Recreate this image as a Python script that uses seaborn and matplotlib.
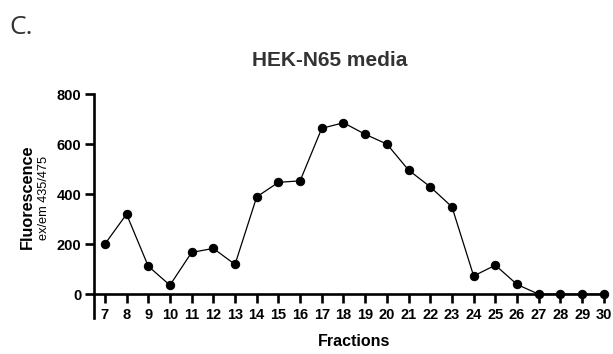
import matplotlib
matplotlib.use("Agg")
import matplotlib.pyplot as plt
import seaborn as sns
import pandas as pd

fractions = list(range(7, 31))
fluorescence = [200, 320, 112, 36, 167, 183, 119, 389, 447, 453, 663, 685,
                639, 600, 496, 429, 349, 73, 116, 39, 0, 0, 0, 0]
y_ticks = [0, 200, 400, 600, 800]

sns.set_theme(style="ticks")
plt.rcParams['font.family'] = ['Liberation Sans', 'DejaVu Sans']

df = pd.DataFrame({"Fractions": fractions, "Fluorescence": fluorescence})

fig = plt.figure(figsize=(6.13, 3.54), dpi=100)
ax = fig.add_axes([94/613, 1-318/354, (606-94)/613, (318-94)/354])

sns.lineplot(data=df, x="Fractions", y="Fluorescence", ax=ax, color="black",
             linewidth=0.9, marker="o", markersize=6, markeredgecolor="black",
             markerfacecolor="black", clip_on=False)

ax.set_xlim(6.5, 30.1)
ax.set_ylim(-95, 800)
ax.set_xticks(fractions)
ax.set_yticks(y_ticks)
for s in ["top", "right"]:
    ax.spines[s].set_visible(False)
ax.spines["bottom"].set_position(("data", 0))
ax.spines["bottom"].set_linewidth(1.9)
ax.spines["left"].set_linewidth(1.9)
ax.spines["bottom"].set_color("black")
ax.spines["left"].set_color("black")
ax.tick_params(axis="both", which="major", width=1.9, length=6.5, color="black",
               labelsize=10.5, labelcolor="black")
ax.tick_params(axis="x", pad=3.5)
ax.tick_params(axis="y", pad=2.5)
for lab in ax.get_xticklabels() + ax.get_yticklabels():
    lab.set_fontweight("bold")
ax.set_xlabel("")
ax.set_ylabel("")

fig.text(354/613, 1-342/354, "Fractions", ha="center", va="center",
         fontsize=11.5, fontweight="bold", color="black")
fig.text(27/613, 1-197/354, "Fluorescence", ha="center", va="center",
         rotation=90, fontsize=11.7, fontweight="bold", color="black")
fig.text(44/613, 1-198/354, "ex/em 435/475", ha="center", va="center",
         rotation=90, fontsize=9.2, color="black")
fig.text(330/613, 1-60/354, "HEK-N65 media", ha="center", va="center",
         fontsize=15, fontweight="bold", color="#333333")
fig.text(9/613, 1-27/354, "C.", ha="left", va="center",
         fontsize=19, color="#333333", family=["Open Sans", "DejaVu Sans"])

fig.savefig("out.png", dpi=100)
